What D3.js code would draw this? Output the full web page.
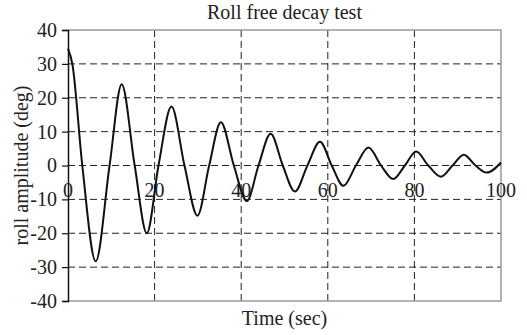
<!DOCTYPE html>
<html>
<head>
	<meta charset="utf-8">
	<title> roll decay </title>
	<script src="https://d3js.org/d3.v7.min.js"></script>
	<style>
		body { margin: 0; background: white; }
		text { font-family: "Liberation Serif", "Times New Roman", serif; fill: #222; }
	</style>
</head>
<body>
	<svg id="chart"></svg>
	<script type="text/javascript">

		// points: peaks, troughs and zero crossings
		const timeSec = [0, 1, 3.3, 6.4, 9.6, 12.4, 15.4, 18.2, 20.9, 23.9, 26.9, 29.9, 32.6, 35.3, 38.3, 41.3, 44.0, 46.8, 49.6, 52.4, 55.3, 58.2, 60.9, 63.6, 66.5, 69.4, 72.3, 75.1, 77.8, 80.4, 83.2, 86.1, 88.8, 91.4, 94.1, 96.7, 100];
		const rollDeg = [34.5, 30, 0, -28.3, 0, 24, 0, -20, 0, 17.4, 0, -14.8, 0, 12.8, 0, -10.5, 0, 9.4, 0, -7.7, 0, 7.0, 0, -6.0, 0, 5.3, 0, -4.0, 0, 4.1, 0, -3.3, 0, 3.2, 0, -2.1, 0.9];

		const xTicks = [0, 20, 40, 60, 80, 100];
		const yTicks = [40, 30, 20, 10, 0, -10, -20, -30, -40];

		const w = 527, h = 335;
		const left_border = 68, right_edge = 501, top_edge = 30, bottom_edge = 301;

		const svg = d3.select("#chart").attr("width", w).attr("height", h);

		const x = d3.scaleLinear().domain([0, 100]).range([left_border, right_edge]);
		const y = d3.scaleLinear().domain([-40, 40]).range([bottom_edge, top_edge]);

		// dashed grid
		svg.append("g").selectAll("line").data(xTicks.filter(d => d > 0 && d < 100)).join("line")
			.attr("x1", d => x(d)).attr("x2", d => x(d)).attr("y1", top_edge).attr("y2", bottom_edge)
			.attr("stroke", "#222").attr("stroke-width", 1).attr("stroke-dasharray", "7,4");
		svg.append("g").selectAll("line").data(yTicks.filter(d => d > -40 && d < 40)).join("line")
			.attr("x1", left_border).attr("x2", right_edge).attr("y1", d => y(d)).attr("y2", d => y(d))
			.attr("stroke", "#222").attr("stroke-width", 1).attr("stroke-dasharray", "7,4");

		// grey frame on top, right, bottom
		svg.append("path")
			.attr("d", "M" + left_border + "," + top_edge + "H" + right_edge + "V" + bottom_edge + "H" + left_border)
			.attr("fill", "none").attr("stroke", "#999").attr("stroke-width", 1.5);

		// y axis
		const yaxis = d3.axisLeft(y).tickValues(yTicks).tickSize(6).tickPadding(5).tickFormat(d => String(d));
		const gy = svg.append("g").attr("transform", "translate(" + left_border + ",0)").call(yaxis);
		gy.select(".domain").attr("stroke", "#111").attr("stroke-width", 1.5);
		gy.selectAll(".tick line").attr("stroke", "#111").attr("stroke-width", 1.2);
		gy.selectAll("text").style("font-family", "Liberation Serif, serif").style("font-size", "20px").attr("fill", "#333");

		// x tick labels sit just under the zero line
		svg.append("g").selectAll("text").data(xTicks).join("text")
			.attr("x", d => x(d)).attr("y", y(0) + 31)
			.attr("text-anchor", "middle").style("font-size", "20px").attr("fill", "#333")
			.text(d => d);

		const line = d3.line().x((d, i) => x(timeSec[i])).y(d => y(d)).curve(d3.curveMonotoneX);
		svg.append("path").datum(rollDeg).attr("d", line)
			.attr("fill", "none").attr("stroke", "#111").attr("stroke-width", 2);

		svg.append("text").attr("x", (left_border + right_edge) / 2).attr("y", 19).attr("text-anchor", "middle")
			.style("font-size", "20px").text("Roll free decay test");
		svg.append("text").attr("x", (left_border + right_edge) / 2).attr("y", 325).attr("text-anchor", "middle")
			.style("font-size", "20px").text("Time (sec)");
		svg.append("text").attr("transform", "translate(28," + ((top_edge + bottom_edge) / 2) + ") rotate(-90)")
			.attr("text-anchor", "middle").style("font-size", "20px").text("roll amplitude (deg)");
	</script>
</body>
</html>
